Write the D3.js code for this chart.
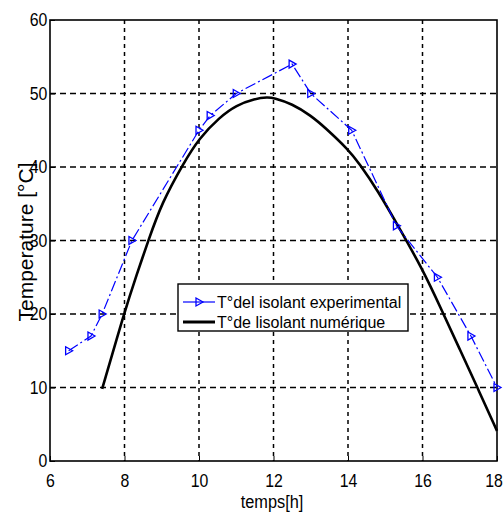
<!doctype html>
<html lang="fr">
<head>
<meta charset="utf-8">
<title>Temperature isolant</title>
<style>
  body { margin: 0; background: #fff; }
  text { font-family: "Liberation Sans", Arial, sans-serif; fill: #000; }
  .tick-label { font-size: 18px; }
  .grid line { stroke: #000; stroke-width: 1.5; }
</style>
<script src="https://d3js.org/d3.v7.min.js"></script>
</head>
<body>
<div id="chart"></div>
<script>
// experimental points (blue, dash-dot with > markers)
var expHours = [6.5, 7.1, 7.4, 8.2, 10.0, 10.3, 11.0, 12.5, 13.0, 14.1, 15.3, 16.4, 17.3, 18.0];
var expTemps = [15, 17, 20, 30, 45, 47, 50, 54, 50, 45, 32, 25, 17, 10];

// numerical curve (black)
var numHours = [7.4, 8.0, 8.33, 8.64, 9.0, 9.58, 10.0, 10.56, 11.0, 11.5, 11.85, 12.0, 12.5, 13.0, 13.4, 14.0, 14.3, 14.8, 15.4, 16.0, 16.5, 17.0, 17.5, 18.0];
var numTemps = [9.8, 20.3, 25.4, 30.0, 35.1, 40.5, 43.9, 46.8, 48.4, 49.3, 49.5, 49.4, 48.6, 47.0, 45.3, 42.4, 40.5, 36.8, 31.5, 26.1, 20.7, 15.2, 9.7, 4.1];

var xTicks = [6, 8, 10, 12, 14, 16, 18];
var yTicks = [0, 10, 20, 30, 40, 50, 60];

var legendLabels = ["T\u00b0del isolant experimental", "T\u00b0de lisolant  num\u00e9rique"];

var W = 504, H = 516;
var margin = {top: 20, right: 7, bottom: 55, left: 50};
var width = W - margin.left - margin.right,
    height = H - margin.top - margin.bottom;

var svg = d3.select("#chart").append("svg")
  .attr("width", W)
  .attr("height", H);

var g = svg.append("g")
  .attr("transform", "translate(" + margin.left + "," + margin.top + ")");

var x = d3.scaleLinear().domain([6, 18]).range([0, width]);
var y = d3.scaleLinear().domain([0, 60]).range([height, 0]);

// grid
var grid = g.append("g").attr("class", "grid");
grid.selectAll(".vg").data(xTicks.slice(1, -1)).enter().append("line")
  .attr("x1", d => x(d)).attr("x2", d => x(d))
  .attr("y1", 0).attr("y2", height)
  .attr("stroke-dasharray", "4,4");
grid.selectAll(".hg").data(yTicks.slice(1, -1)).enter().append("line")
  .attr("x1", 0).attr("x2", width)
  .attr("y1", d => y(d)).attr("y2", d => y(d))
  .attr("stroke-dasharray", "6,4");

// axes (matlab style: inner ticks, box)
var xAxis = d3.axisBottom(x).tickValues(xTicks).tickSize(-5).tickPadding(13);
var yAxis = d3.axisLeft(y).tickValues(yTicks).tickSize(-5).tickPadding(3);

var gx = g.append("g").attr("transform", "translate(0," + height + ")").call(xAxis);
var gy = g.append("g").call(yAxis);
[gx, gy].forEach(function(a) {
  a.select(".domain").remove();
  a.selectAll(".tick line").attr("stroke", "#000").attr("stroke-width", 1);
  a.selectAll(".tick text")
    .attr("class", "tick-label")
    .attr("font-family", null).attr("font-size", null)
    .attr("transform", "scale(0.88,1)");
});
// last label sits right on the figure edge
gx.selectAll(".tick text").filter(d => d == 18).attr("dx", -4);

g.append("rect")
  .attr("x", 0).attr("y", 0)
  .attr("width", width).attr("height", height)
  .attr("fill", "none")
  .attr("stroke", "#000")
  .attr("stroke-width", 1.6);

// numerical curve
var numData = numHours.map((h, i) => [h, numTemps[i]]);
g.append("path")
  .datum(numData)
  .attr("fill", "none")
  .attr("stroke", "#000")
  .attr("stroke-width", 2.6)
  .attr("d", d3.line().x(d => x(d[0])).y(d => y(d[1])).curve(d3.curveBasis));

// experimental
var expData = expHours.map((h, i) => [h, expTemps[i]]);
g.append("path")
  .datum(expData)
  .attr("fill", "none")
  .attr("stroke", "#0000ff")
  .attr("stroke-width", 1.2)
  .attr("stroke-dasharray", "11,3,2,3")
  .attr("d", d3.line().x(d => x(d[0])).y(d => y(d[1])));

var tri = "M-3,-4 L4,0 L-3,4 Z";
g.selectAll(".mk").data(expData).enter().append("path")
  .attr("d", tri)
  .attr("transform", d => "translate(" + x(d[0]) + "," + y(d[1]) + ")")
  .attr("fill", "none")
  .attr("stroke", "#0000ff")
  .attr("stroke-width", 1.3);

// labels
svg.append("text")
  .attr("x", 0).attr("y", 0)
  .attr("text-anchor", "middle")
  .attr("font-size", 19)
  .attr("transform", "translate(272,508) scale(0.86,1)")
  .text("temps[h]");

svg.append("text")
  .attr("transform", "translate(33,242) rotate(-90)")
  .attr("text-anchor", "middle")
  .attr("font-size", 21)
  .text("Temperature [\u00b0C]");

// legend
var lg = svg.append("g").attr("transform", "translate(178,284)");
lg.append("rect")
  .attr("width", 230).attr("height", 47)
  .attr("fill", "#fff").attr("stroke", "#000").attr("stroke-width", 1.4);

lg.append("line").attr("x1", 5).attr("x2", 37).attr("y1", 18).attr("y2", 18)
  .attr("stroke", "#0000ff").attr("stroke-width", 1.2);
lg.append("path").attr("d", tri).attr("transform", "translate(21,18)")
  .attr("fill", "none").attr("stroke", "#0000ff").attr("stroke-width", 1.3);
lg.append("line").attr("x1", 5).attr("x2", 37).attr("y1", 38).attr("y2", 38)
  .attr("stroke", "#000").attr("stroke-width", 3);

lg.selectAll(".lt").data(legendLabels).enter().append("text")
  .attr("x", 39)
  .attr("y", (d, i) => 24 + i * 20)
  .attr("font-size", 16)
  .text(d => d);
</script>
</body>
</html>
